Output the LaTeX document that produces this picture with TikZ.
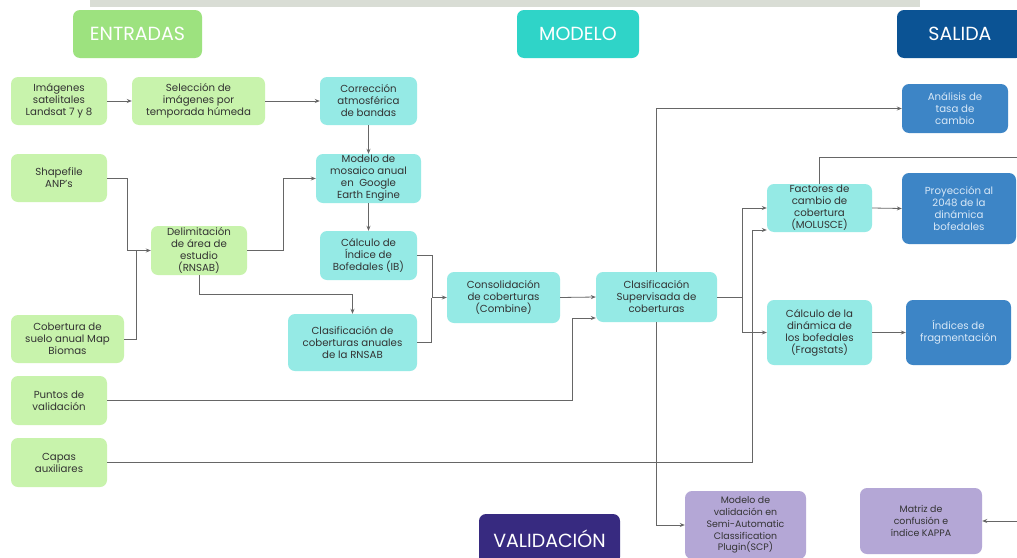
\documentclass[tikz,border=0pt]{standalone}
\usepackage{fontspec}
\setmainfont{Poppins}
\usetikzlibrary{arrows.meta}
\definecolor{gfill}{HTML}{C8F3AC}
\definecolor{cfill}{HTML}{95EAE5}
\definecolor{bfill}{HTML}{3D85C6}
\definecolor{pfill}{HTML}{B4A7D6}
\definecolor{hgreen}{HTML}{9DE27F}
\definecolor{hcyan}{HTML}{2FD4C8}
\definecolor{hblue}{HTML}{0B5394}
\definecolor{hpurple}{HTML}{372A80}
\definecolor{txt}{HTML}{333333}
\definecolor{btxt}{HTML}{D8E8F7}
\definecolor{lin}{HTML}{666666}
\definecolor{strip}{HTML}{D9DDD5}
\begin{document}
\begin{tikzpicture}[x=1pt,y=-1pt,
  box/.style={rounded corners=7pt, align=center, inner sep=1pt, text=txt,
    font=\fontsize{10.2}{12}\selectfont},
  gbox/.style={box, fill=gfill},
  cbox/.style={box, fill=cfill},
  bbox/.style={box, fill=bfill, text=btxt},
  pbox/.style={box, fill=pfill, font=\fontsize{9.4}{11.8}\selectfont},
  hdr/.style={rounded corners=7pt, text=white, font=\fontsize{19}{22}\selectfont, minimum height=48pt},
  ln/.style={draw=lin, line width=0.8pt},
  arr/.style={ln, -{Stealth[length=5pt,width=4pt]}}]
\clip (0,0) rectangle (1017,557);
\fill[white] (0,0) rectangle (1017,557);
\fill[strip] (90,0) rectangle (920,7);
% headers
\node[hdr, fill=hgreen, minimum width=129pt] (hE) at (137.5,34) {ENTRADAS};
\node[hdr, fill=hcyan, minimum width=122pt] (hM) at (578,34) {MODELO};
\node[hdr, fill=hblue, minimum width=126pt] (hS) at (960,34) {SALIDA};
\node[hdr, fill=hpurple, minimum width=141pt, minimum height=50pt] (hV) at (549.5,539) {VALIDACIÓN};
% inputs
\node[gbox, minimum width=96pt, minimum height=48pt] (img) at (59,101) {Imágenes\\satelitales\\Landsat 7 y 8};
\node[gbox, minimum width=133pt, minimum height=48pt] (sel) at (198.5,101) {Selección de\\imágenes por\\temporada húmeda};
\node[gbox, minimum width=96pt, minimum height=48pt] (shp) at (59,178) {Shapefile\\ANP’s};
\node[gbox, minimum width=96pt, minimum height=49pt] (del) at (199,250.5) {Delimitación\\de área de\\estudio\\(RNSAB)};
\node[gbox, minimum width=113pt, minimum height=48pt] (cob) at (67.5,339) {Cobertura de\\suelo anual Map\\Biomas};
\node[gbox, minimum width=96pt, minimum height=49pt] (pun) at (59,400.5) {Puntos de\\validación};
\node[gbox, minimum width=96pt, minimum height=49pt] (cap) at (59,462.5) {Capas\\auxiliares};
% model
\node[cbox, minimum width=97pt, minimum height=48pt] (cor) at (368.5,101) {Corrección\\atmosférica\\de bandas};
\node[cbox, minimum width=105pt, minimum height=49pt] (mos) at (368.5,178.5) {Modelo de\\mosaico anual\\en~~Google\\Earth Engine};
\node[cbox, minimum width=97pt, minimum height=49pt] (ib) at (368.5,255.5) {Cálculo de\\Índice de\\Bofedales (IB)};
\node[cbox, minimum width=129pt, minimum height=57pt] (cla) at (352.5,342.5) {Clasificación de\\coberturas anuales\\de la RNSAB};
\node[cbox, minimum width=113pt, minimum height=51pt] (con) at (503.5,297.5) {Consolidación\\de coberturas\\(Combine)};
\node[cbox, minimum width=121pt, minimum height=50pt] (sup) at (656.5,297) {Clasificación\\Supervisada de\\coberturas};
\node[cbox, minimum width=105pt, minimum height=48pt] (fac) at (819.5,208) {Factores de\\cambio de\\cobertura\\(MOLUSCE)};
\node[cbox, minimum width=105pt, minimum height=65pt] (din) at (819.5,332.5) {Cálculo de la\\dinámica de\\los bofedales\\(Fragstats)};
% outputs
\node[bbox, minimum width=106pt, minimum height=49pt] (ana) at (955,108.5) {Análisis de\\tasa de\\cambio};
\node[bbox, minimum width=114pt, minimum height=71pt] (pro) at (959,208.5) {Proyección al\\2048 de la\\dinámica\\bofedales};
\node[bbox, minimum width=105pt, minimum height=65pt] (ind) at (958.5,332.5) {Índices de\\fragmentación};
% validation
\node[pbox, minimum width=121pt, minimum height=68pt] (val) at (745.5,525) {Modelo de\\validación en\\Semi-Automatic\\Classification\\Plugin(SCP)};
\node[pbox, minimum width=122pt, minimum height=66pt] (mat) at (921,521) {Matriz de\\confusión e\\índice KAPPA};
% helper coordinates
\coordinate (pj) at (572,318);
\coordinate (cj) at (752,230);
\coordinate (edgeA) at (1020,157);
\coordinate (edgeB) at (1020,521);
% connectors
\draw[arr] (img.east) -- (sel.west);
\draw[arr] (sel.east) -- (cor.west);
\draw[arr] (cor.south) -- (mos.north);
\draw[arr] (mos.south) -- (ib.north);
\draw[arr] (shp.east) -| ([xshift=-23pt]del.west) -- (del.west);
\draw[ln] (cob.east) -| ([xshift=-14pt]del.west);
\draw[arr] (del.east) -- ++(36,0) |- (mos.west);
\draw[arr] (del.south) -- ++(0,19) -| (cla.north);
\draw[arr] (ib.east) -- ++(15,0) |- (con.west);
\draw[ln] (cla.east) -| ([xshift=-15pt]con.west);
\draw[arr] (con.east) -- (sup.west);
\draw[arr] (pun.east) -| (pj) -- (sup.west |- pj);
\draw[arr] (cap.east) -| (cj) -- (fac.west |- cj);
\draw[arr] (sup.east) -- ++(25,0) |- (fac.west);
\draw[arr] (sup.east) -- ++(25,0) |- (din.west);
\draw[arr] (sup.north) |- (ana.west);
\draw[arr] (sup.south) |- (val.west);
\draw[ln] (fac.north) |- (edgeA);
\draw[arr] (fac.east) -- (pro.west);
\draw[arr] (din.east) -- (ind.west);
\draw[arr] (edgeB) -- (mat.east);
\end{tikzpicture}
\end{document}
